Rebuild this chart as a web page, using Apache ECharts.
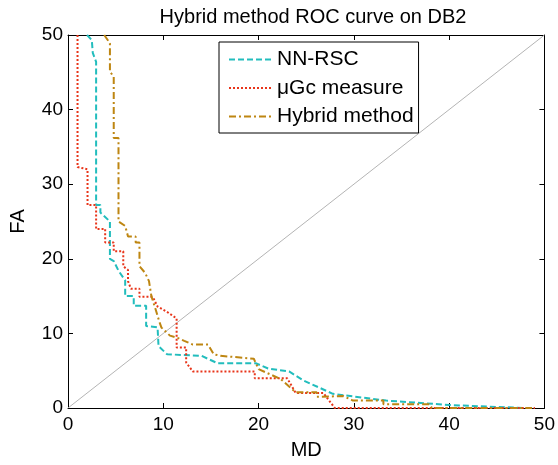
<!DOCTYPE html>
<html>
<head>
<meta charset="utf-8">
<script src="https://cdn.jsdelivr.net/npm/echarts@6/dist/echarts.min.js"></script>
<style>
  html, body { margin: 0; padding: 0; background: #fff; }
  #chart { width: 558px; height: 465px; }
</style>
</head>
<body>
<div id="chart"></div>
<script>
// values
var seriesNames = ["NN-RSC", "\u03bcGc measure", "Hybrid method"];

var nnX = [2.0, 2.5, 2.6, 2.95, 2.95, 3.4, 3.4, 4.4, 4.4, 4.8, 5.3, 6.0, 6.0, 6.9, 6.9, 8.2, 8.2, 9.4, 9.5, 10.4, 14.0, 15.7, 19.7, 21.0, 23.2, 24.7, 27.8, 33.4, 40.0, 47.8];
var nnY = [50, 49.3, 47.6, 46.4, 27.2, 27.2, 26.2, 25.0, 20.0, 19.7, 18.4, 17.1, 15.0, 15.0, 13.7, 13.7, 11.0, 10.8, 8.3, 7.2, 7.0, 6.0, 6.0, 5.3, 4.9, 3.7, 1.9, 1.0, 0.4, 0];

var ugcX = [1.0, 1.0, 2.05, 2.05, 2.95, 2.95, 3.9, 3.9, 4.8, 4.8, 5.8, 5.8, 6.3, 6.3, 6.6, 7.5, 7.5, 8.9, 9.4, 10.5, 11.4, 11.4, 12.4, 12.4, 13.1, 19.6, 19.6, 23.0, 23.9, 26.8, 28.0, 49.0];
var ugcY = [50, 32.3, 32.0, 27.2, 27.2, 24.0, 24.0, 22.2, 22.2, 21.0, 21.0, 19.0, 18.5, 17.0, 16.0, 16.0, 14.9, 14.9, 13.6, 12.8, 12.0, 8.1, 8.1, 6.1, 4.9, 4.9, 4.0, 4.0, 2.0, 2.0, 0, 0];

var hybX = [3.8, 4.4, 4.4, 4.8, 4.8, 5.3, 5.3, 6.0, 6.3, 7.1, 7.1, 7.5, 7.5, 8.1, 8.5, 8.75, 9.2, 9.6, 9.8, 10.7, 11.5, 12.2, 13.1, 14.7, 15.3, 16.0, 19.5, 20.0, 22.3, 23.9, 26.1, 26.1, 28.9, 29.9, 33.1, 33.1, 37.9, 38.2, 48.7];
var hybY = [50, 48.9, 45.1, 44.4, 36.2, 36.2, 25.0, 24.4, 23.0, 23.0, 22.2, 22.2, 19.0, 18.1, 17.0, 15.0, 13.2, 11.5, 10.8, 9.7, 9.4, 9.0, 8.5, 8.5, 7.2, 7.0, 6.6, 5.2, 3.9, 2.1, 2.1, 1.5, 1.6, 1.0, 1.0, 0.5, 0.5, 0, 0];

var axisTicks = [0, 10, 20, 30, 40, 50];

function pairs(xs, ys) {
    return xs.map(function (x, i) { return [x, ys[i]]; });
}

var chart = echarts.init(document.getElementById('chart'), null, {renderer: 'canvas'});

var fontFam = 'Liberation Sans, Arial, sans-serif';
var tickMin = axisTicks[0], tickMax = axisTicks[axisTicks.length - 1];
var tickStep = axisTicks[1] - axisTicks[0];

function axisBase(extra, labelMargin) {
    var a = {
        type: 'value',
        min: tickMin,
        max: tickMax,
        interval: tickStep,
        axisLine: {show: true, onZero: false, lineStyle: {color: '#000', width: 1}},
        axisTick: {show: true, inside: true, length: 5, lineStyle: {color: '#000'}},
        axisLabel: {show: true, color: '#000', fontSize: 19, fontFamily: fontFam, margin: labelMargin},
        splitLine: {show: false}
    };
    for (var k in extra) a[k] = extra[k];
    return a;
}

var option = {
    animation: false,
    backgroundColor: '#fff',
    title: {
        text: 'Hybrid method ROC curve on DB2',
        left: 308,
        top: 2,
        textAlign: 'center',
        textStyle: {fontSize: 20, fontWeight: 'normal', color: '#000', fontFamily: fontFam}
    },
    grid: {left: 66, right: 12, top: 35, bottom: 56, containLabel: false},
    xAxis: [
        axisBase({position: 'bottom', name: 'MD', nameLocation: 'middle', nameGap: 32,
            nameTextStyle: {fontSize: 20, color: '#000', fontFamily: fontFam}}, 7),
        axisBase({position: 'top', axisLabel: {show: false}}, 7)
    ],
    yAxis: [
        axisBase({position: 'left', name: 'FA', nameLocation: 'middle', nameGap: 40,
            nameTextStyle: {fontSize: 20, color: '#000', fontFamily: fontFam}}, 5),
        axisBase({position: 'right', axisLabel: {show: false}}, 5)
    ],
    legend: {
        data: seriesNames,
        orient: 'vertical',
        left: 219,
        top: 42,
        backgroundColor: '#fff',
        borderColor: '#000',
        borderWidth: 1,
        borderRadius: 0,
        padding: [7, 5, 6, 9],
        itemGap: 7.5,
        itemWidth: 43,
        itemHeight: 20,
        itemStyle: {opacity: 0},
        textStyle: {fontSize: 21, color: '#000', fontFamily: fontFam}
    },
    series: [
        {
            name: 'diag',
            type: 'line',
            data: [[tickMin, tickMin], [tickMax, tickMax]],
            symbol: 'none',
            silent: true,
            z: 1,
            lineStyle: {color: '#b4b4b4', width: 1}
        },
        {
            name: seriesNames[0],
            type: 'line',
            data: pairs(nnX, nnY),
            symbol: 'none',
            color: '#22BDBD',
            lineStyle: {color: '#22BDBD', width: 2, type: [6, 3]},
            z: 3
        },
        {
            name: seriesNames[1],
            type: 'line',
            data: pairs(ugcX, ugcY),
            symbol: 'none',
            color: '#E8351A',
            lineStyle: {color: '#E8351A', width: 2, type: [2, 2]},
            z: 3
        },
        {
            name: seriesNames[2],
            type: 'line',
            data: pairs(hybX, hybY),
            symbol: 'none',
            color: '#BE8612',
            lineStyle: {color: '#BE8612', width: 2, type: [7, 3, 2, 3]},
            z: 3
        }
    ]
};

chart.setOption(option);
</script>
</body>
</html>
